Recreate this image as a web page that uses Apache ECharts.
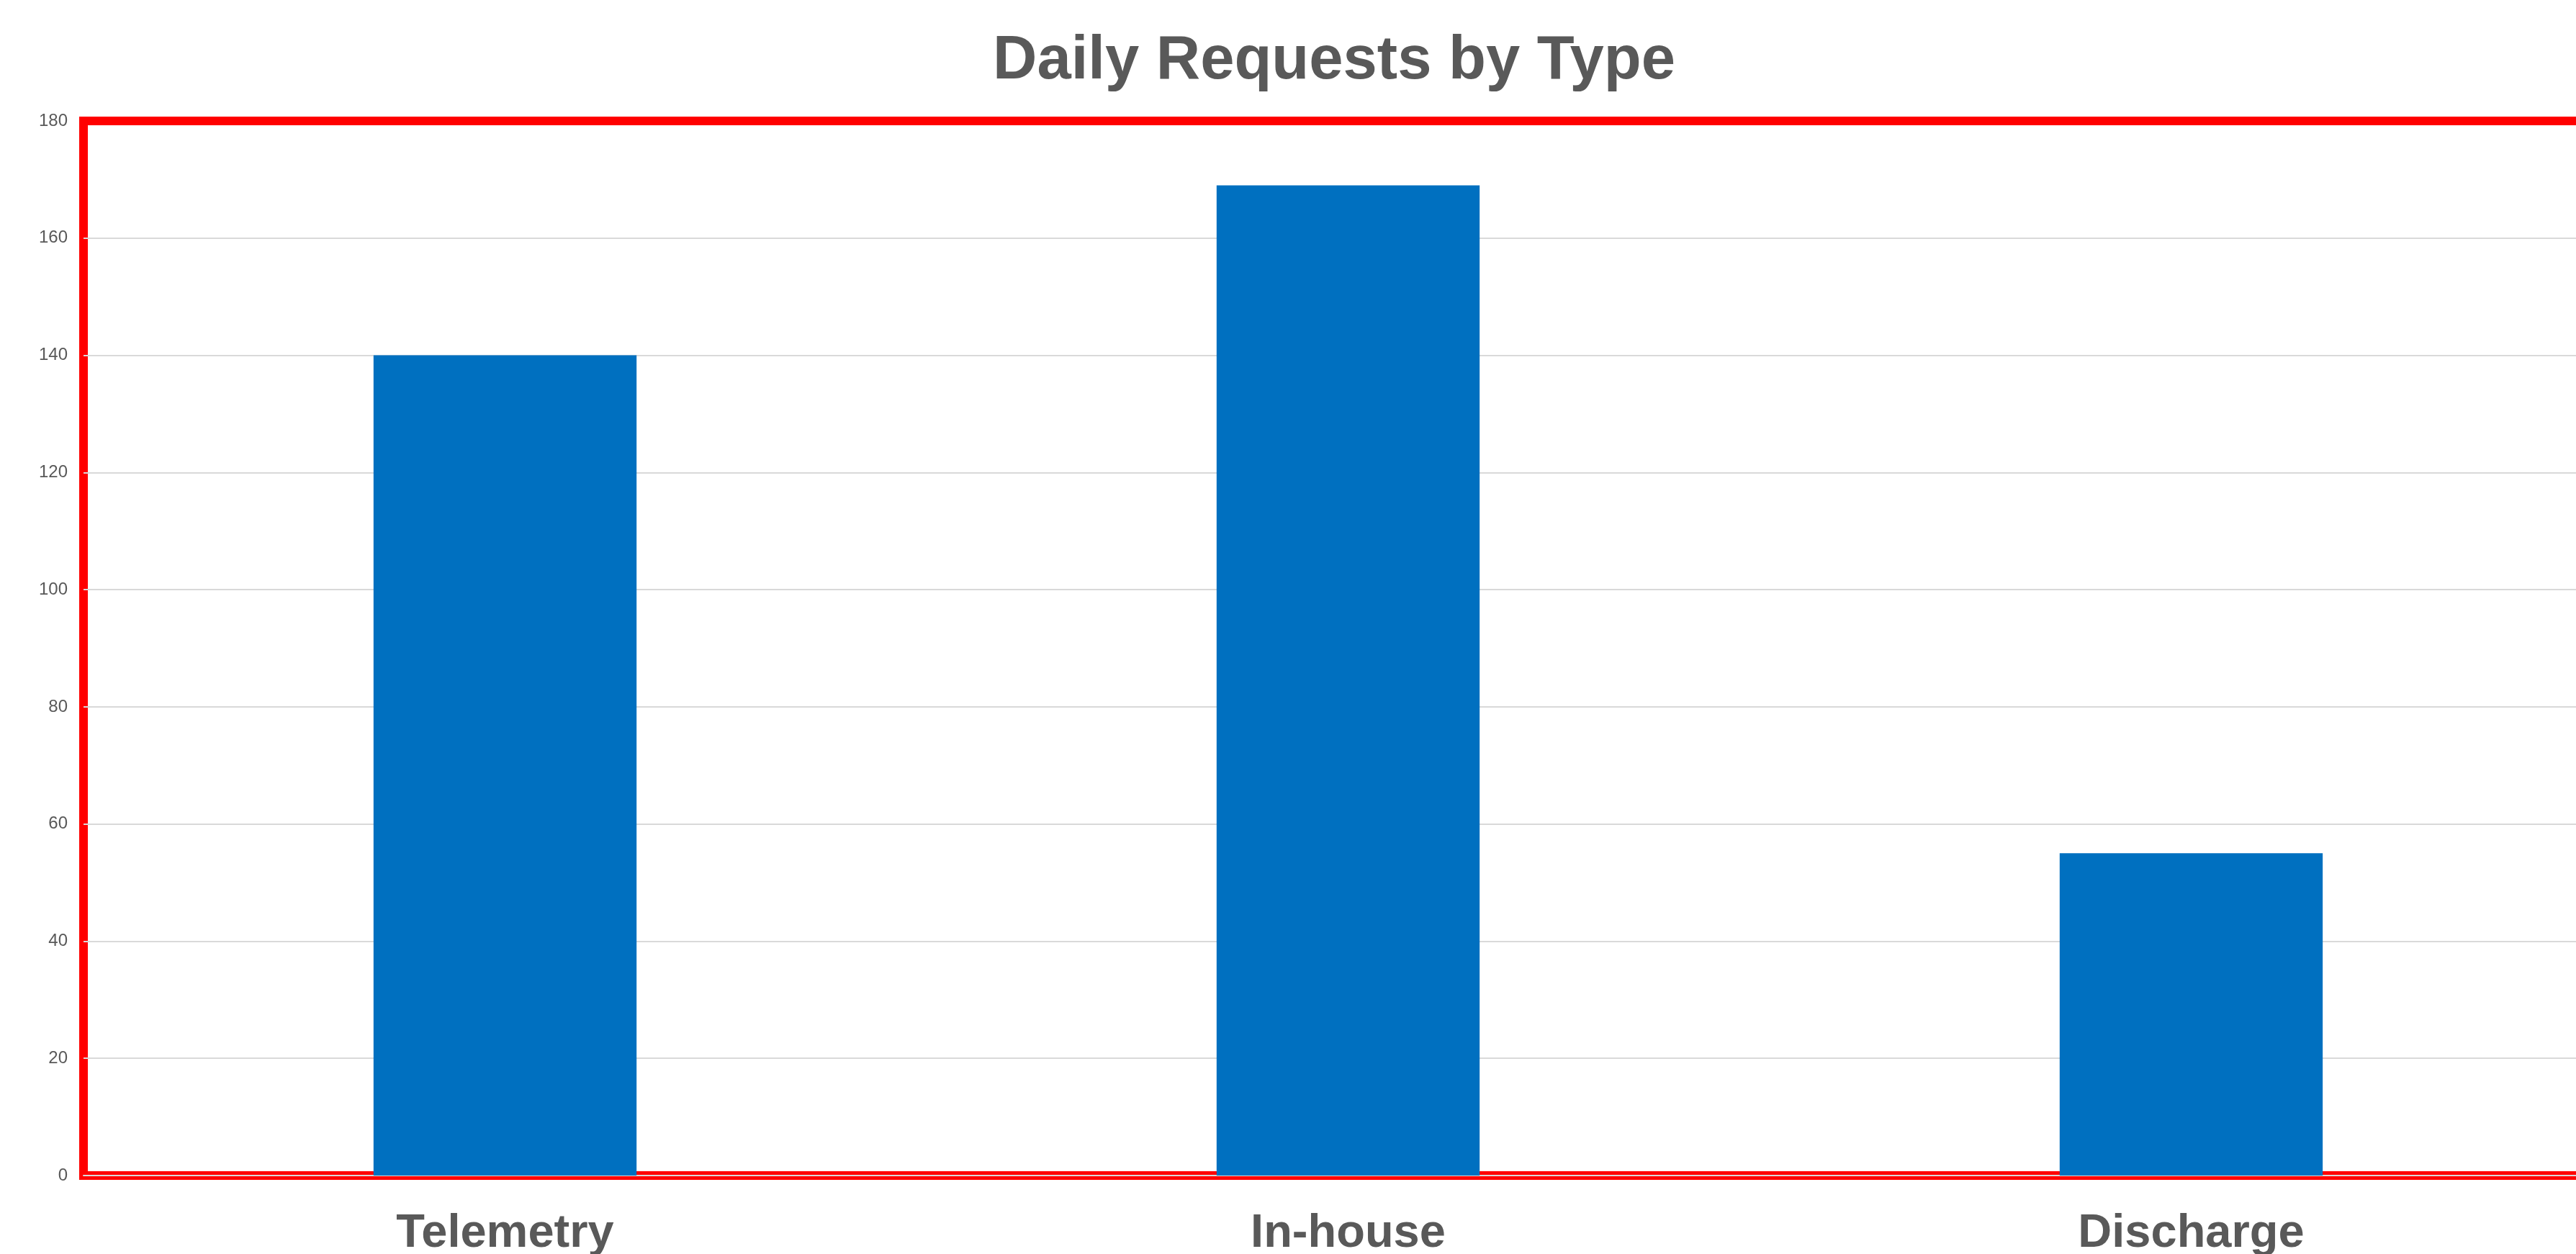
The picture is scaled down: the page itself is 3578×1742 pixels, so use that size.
<!DOCTYPE html>
<html>
<head>
<meta charset="utf-8">
<script src="https://cdn.jsdelivr.net/npm/echarts@6/dist/echarts.min.js"></script>
<style>
html,body{margin:0;padding:0;background:#fff;}
#chart{width:3578px;height:1742px;}
</style>
</head>
<body>
<div id="chart"></div>
<script>
const categories = ['Telemetry', 'In-house', 'Discharge'];
const requests = [140, 169, 55];
const yTicks = { min: 0, max: 180, interval: 20 };

const chart = echarts.init(document.getElementById('chart'));
chart.setOption({
  backgroundColor: '#ffffff',
  animation: false,
  title: {
    text: 'Daily Requests by Type',
    left: 1374,
    top: 38,
    textStyle: {
      fontFamily: 'Liberation Sans, Arial, sans-serif',
      fontSize: 85,
      fontWeight: 'bold',
      color: '#595959'
    }
  },
  grid: {
    show: true,
    left: 116,
    width: 3513,
    top: 168,
    height: 1465,
    outerBoundsMode: 'none',
    containLabel: false,
    borderColor: '#ff0000',
    borderWidth: 12,
    backgroundColor: 'transparent'
  },
  xAxis: {
    type: 'category',
    data: categories,
    axisTick: { show: false },
    axisLine: { show: true, lineStyle: { color: '#d9d9d9', width: 2 } },
    axisLabel: {
      margin: 49,
      fontFamily: 'Liberation Sans, Arial, sans-serif',
      fontSize: 65,
      fontWeight: 'bold',
      color: '#595959'
    }
  },
  yAxis: {
    type: 'value',
    min: yTicks.min,
    max: yTicks.max,
    interval: yTicks.interval,
    axisLine: { show: false },
    axisTick: { show: false },
    splitLine: { showMaxLine: false, lineStyle: { color: '#d9d9d9', width: 2 } },
    axisLabel: {
      margin: 22,
      fontFamily: 'Liberation Sans, Arial, sans-serif',
      fontSize: 24,
      color: '#595959'
    }
  },
  series: [{
    type: 'bar',
    data: requests,
    barWidth: '31.2%',
    itemStyle: { color: '#0070c0' }
  }]
});
</script>
</body>
</html>
